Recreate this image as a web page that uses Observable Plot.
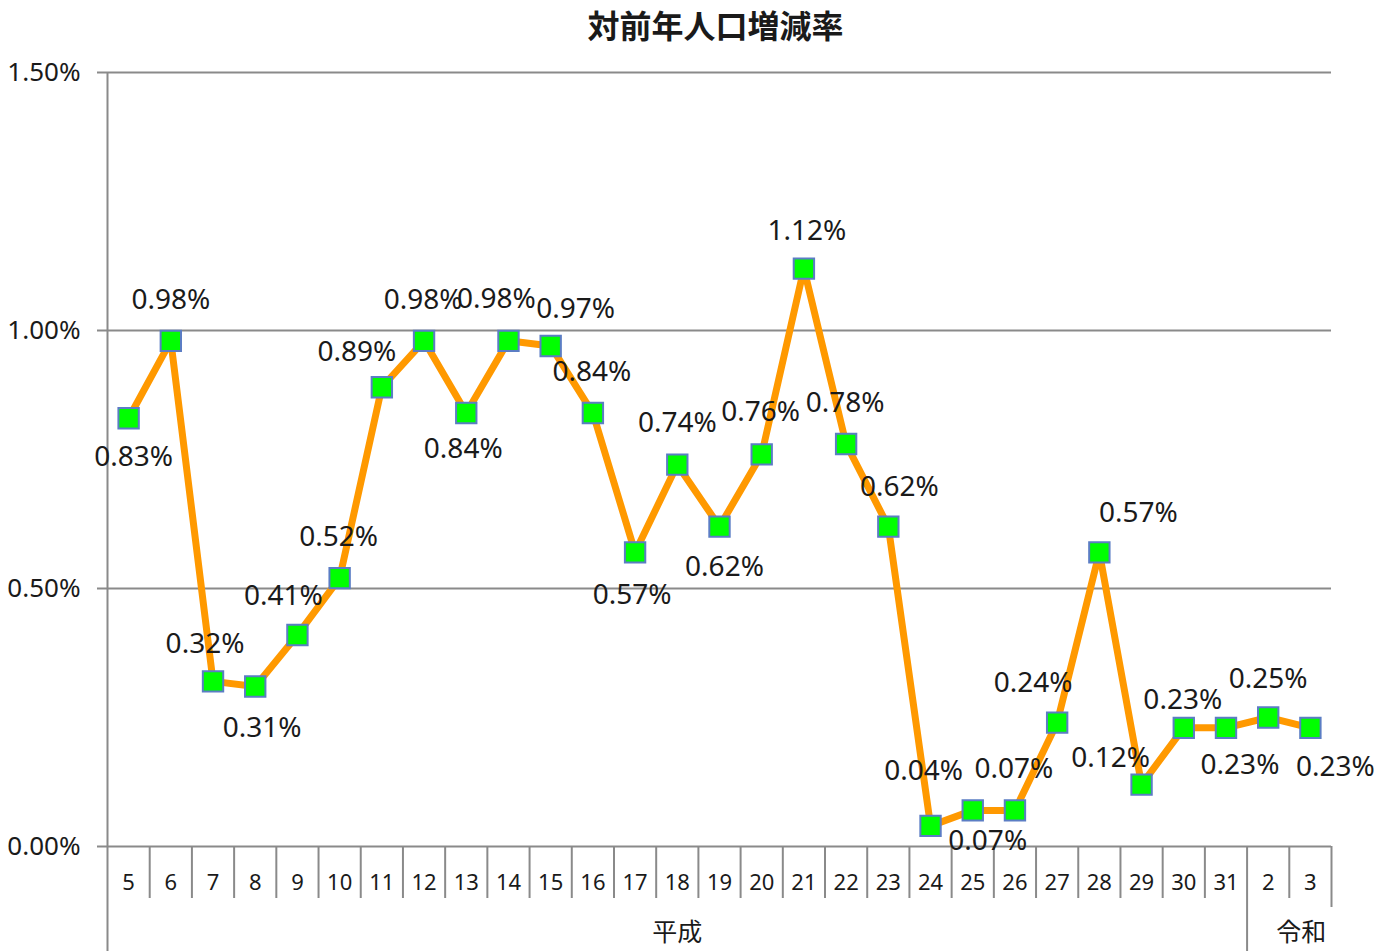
<!DOCTYPE html>
<html><head><meta charset="utf-8">
<script src="https://cdn.jsdelivr.net/npm/d3@7"></script>
<script src="https://cdn.jsdelivr.net/npm/@observablehq/plot@0.6"></script>
<style>body{margin:0;background:#fff}</style>
</head><body><div id="chart"></div>
<script>
// ---- data ----
const title = "対前年人口増減率";
const years = ["5","6","7","8","9","10","11","12","13","14","15","16","17","18","19","20","21","22","23","24","25","26","27","28","29","30","31","2","3"];
const rates = [0.0083,0.0098,0.0032,0.0031,0.0041,0.0052,0.0089,0.0098,0.0084,0.0098,0.0097,0.0084,0.0057,0.0074,0.0062,0.0076,0.0112,0.0078,0.0062,0.0004,0.0007,0.0007,0.0024,0.0057,0.0012,0.0023,0.0023,0.0025,0.0023];
const eraNames = ["平成","令和"];
const eraStart = [0, 27];
const eraEnd = [27, 29];
const yTicks = [0, 0.005, 0.01, 0.015];

// ---- label placement (layout only) ----
const labelDx = [5,0,-8,7,-14,-1,-25,-1,-3,-12,25,-1,-3,0,5,-1,3,-1,11,-7,15,-1,-24,39,-31,-1,14,0,25];
const labelDy = [39,-41,-37,41,-39,-41,-35,-41,36,-42,-37,-41,43,-42,40,-42,-38,-41,-40,-55,31,-41,-40,-39,-27,-28,37,-38,39];
const eraLabelDx = [0, 12];

const fmt = d3.format(".2%");
const n = years.length;
const data = years.map((yr, i) => ({x: i + 0.5, yr, v: rates[i]}));
const gray = "#8a8a8a";
const ink = "#1a1a1a";
const font = "'Noto Sans', 'Noto Sans CJK JP', sans-serif";
const cjk = "'Noto Sans CJK JP', sans-serif";
const plotH = 951 - 72 - 105;

const eraBounds = eraStart.filter(s => s > 0);
const shortDividers = d3.range(1, n).filter(k => !eraBounds.includes(k));

const chart = Plot.plot({
  width: 1374, height: 951,
  marginLeft: 107, marginRight: 43, marginTop: 72, marginBottom: 105,
  x: {domain: [0, n], axis: null},
  y: {domain: [0, 0.015], axis: null},
  style: {fontFamily: font, background: "#fff", color: ink},
  marks: [
    Plot.ruleY(yTicks, {y: d => d, stroke: gray, strokeWidth: 2, insetLeft: -10}),
    Plot.text(yTicks, {y: d => d, text: d => fmt(d), frameAnchor: "left", dx: -27, textAnchor: "end", lineAnchor: "middle", fontSize: 26, fill: ink}),
    Plot.ruleX([0], {x: d => d, stroke: gray, strokeWidth: 2, insetBottom: -105}),
    Plot.ruleX(shortDividers, {x: d => d, stroke: gray, strokeWidth: 2, insetTop: plotH, insetBottom: -52}),
    Plot.ruleX(eraBounds, {x: d => d, stroke: gray, strokeWidth: 2, insetTop: plotH, insetBottom: -105}),
    Plot.ruleX([n], {x: d => d, stroke: gray, strokeWidth: 2, insetTop: plotH, insetBottom: -61}),
    Plot.text(data, {x: "x", text: "yr", frameAnchor: "bottom", lineAnchor: "middle", dy: 36, fontSize: 22, fill: ink}),
    ...eraNames.map((name, k) => Plot.text([name], {x: () => (eraStart[k] + eraEnd[k]) / 2, text: d => d, frameAnchor: "bottom", lineAnchor: "middle", dy: 86, dx: eraLabelDx[k], fontSize: 25, fontFamily: cjk, fill: ink})),
    Plot.line(data, {x: "x", y: "v", stroke: "#FF9900", strokeWidth: 7}),
    Plot.dot(data, {x: "x", y: "v", symbol: "square", r: 11.5, fill: "#00FF00", stroke: "#5b7dc4", strokeWidth: 2}),
    ...data.map((d, i) => Plot.text([d], {x: "x", y: "v", text: e => fmt(e.v), dx: labelDx[i], dy: labelDy[i], fontSize: 28, fill: ink})),
    Plot.text([title], {text: d => d, frameAnchor: "top", lineAnchor: "middle", dy: -45, dx: -4, fontSize: 32, fontWeight: "bold", fontFamily: cjk, fill: ink})
  ]
});
document.getElementById("chart").append(chart);
</script>
</body></html>
